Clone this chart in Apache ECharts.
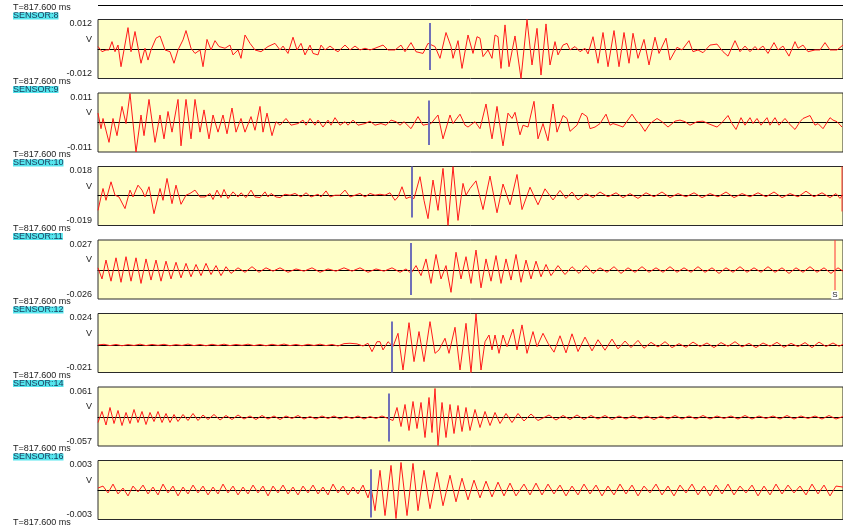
<!DOCTYPE html>
<html><head><meta charset="utf-8">
<script src="https://cdn.jsdelivr.net/npm/echarts@6/dist/echarts.min.js"></script>
<style>html,body{margin:0;padding:0;background:#fff}#c{width:843px;height:532px}</style>
</head><body><div id="c"></div>
<script>
const timeLabel = 'T=817.600 ms';
const sensorNames = ['SENSOR:8','SENSOR:9','SENSOR:10','SENSOR:11','SENSOR:12','SENSOR:14','SENSOR:16'];
const yMax = [0.012, 0.011, 0.018, 0.027, 0.024, 0.061, 0.003];
const yMin = [-0.012, -0.011, -0.019, -0.026, -0.021, -0.057, -0.003];
const pickT = [332, 331, 314, 313, 294, 291, 273];
const pickTop = [0.0106, 0.0082, 0.018, 0.0242, 0.0179, 0.048, 0.0021];
const pickBottom = [-0.0085, -0.0084, -0.014, -0.0225, -0.021, -0.048, -0.0028];
const sPickT = [null, null, 744, 737, null, null, null];
const sPickTop = [null, null, 0.018, 0.027, null, null, null];
const sPickBottom = [null, null, -0.0102, -0.018, null, null, null];
const sPickLabel = ['', '', '', 'S', '', '', ''];

const sensor8 = [[0,.0010],[4,-.0011],[8,-.0004],[11,-.0004],[14,.0030],[17,-.0011],[20,.0016],[23,-.0072],[30,.0087],[33,-.0011],[37,.0071],[43,-.0058],[47,.0003],[50,-.0045],[53,-.0004],[58,.0044],[62,.0053],[67,-.0004],[72,-.0011],[76,-.0058],[80,-.0004],[85,.0037],[88,.0075],[93,.0003],[97,-.0018],[102,-.0004],[105,-.0072],[109,.0039],[113,-.0004],[117,.0034],[121,.0010],[127,.0003],[132,.0016],[135,-.0024],[140,-.0004],[143,-.0038],[147,.0057],[152,.0023],[157,-.0004],[163,-.0011],[170,.0010],[177,.0023],[182,-.0004],[185,.0012],[190,-.0018],[195,.0048],[199,-.0004],[203,.0023],[207,-.0024],[212,.0016],[215,-.0018],[220,-.0024],[223,.0016],[227,-.0004],[232,.0012],[237,-.0004],[240,-.0011],[247,.0016],[252,-.0004],[257,.0012],[262,-.0004],[267,.0003],[272,-.0004],[277,.0003],[285,.0016],[290,-.0004],[297,-.0004],[303,.0016],[307,-.0011],[313,.0026],[318,-.0011],[325,-.0018],[330,.0023],[337,.0010],[342,-.0038],[348,.0067],[353,.0010],[355,-.0038],[360,.0034],[364,-.0079],[370,.0057],[375,-.0018],[379,.0050],[382,.0044],[385,-.0031],[390,-.0004],[394,-.0038],[397,.0057],[400,.0050],[403,-.0079],[407,.0098],[411,-.0072],[417,.0053],[423,-.0120],[429,.0120],[434,-.0065],[439,.0084],[443,-.0106],[448,.0102],[452,-.0065],[457,.0030],[460,-.0024],[465,.0016],[469,.0023],[472,-.0004],[477,.0010],[482,-.0011],[487,.0003],[490,-.0020],[495,.0050],[500,-.0058],[505,.0067],[510,-.0072],[516,.0075],[521,-.0072],[526,.0067],[531,-.0058],[535,.0064],[540,-.0038],[546,.0039],[551,-.0065],[557,.0048],[561,-.0018],[568,.0044],[572,-.0045],[579,.0007],[584,-.0004],[591,.0034],[595,-.0011],[600,-.0004],[605,-.0015],[612,.0016],[619,.0020],[625,-.0011],[630,-.0029],[637,.0034],[642,-.0011],[647,.0012],[652,-.0011],[657,.0010],[660,-.0004],[665,.0012],[670,-.0018],[676,.0026],[680,-.0004],[685,.0012],[691,-.0029],[697,.0030],[700,.0003],[705,.0016],[710,-.0011],[717,-.0004],[722,-.0004],[727,.0026],[732,-.0004],[739,-.0004],[745,.0016]];

const sensor9 = [[0,.0035],[3,-.0023],[5,.0015],[11,-.0074],[15,.0015],[19,-.0049],[24,.0060],[28,-.0004],[32,.0108],[38,-.0110],[43,.0028],[46,-.0049],[51,.0086],[57,-.0074],[62,.0028],[66,-.0061],[70,.0041],[74,-.0036],[80,.0086],[83,-.0087],[88,.0086],[93,-.0061],[97,.0086],[102,-.0036],[106,.0047],[111,-.0061],[115,.0028],[120,-.0036],[125,.0028],[129,-.0042],[134,.0054],[138,-.0036],[143,.0015],[147,-.0036],[153,.0022],[157,-.0029],[162,.0060],[165,-.0036],[169,.0035],[174,-.0049],[178,.0003],[182,-.0010],[188,.0015],[193,-.0010],[200,-.0004],[205,.0009],[208,-.0010],[212,.0015],[217,-.0010],[220,.0009],[225,-.0017],[230,.0009],[233,-.0010],[237,.0018],[242,-.0010],[247,.0003],[250,-.0010],[255,.0009],[260,-.0010],[267,-.0004],[272,.0005],[277,-.0010],[283,-.0004],[288,-.0010],[293,.0009],[298,.0003],[302,-.0010],[306,.0003],[313,-.0023],[320,.0022],[325,-.0010],[333,-.0004],[340,.0028],[345,-.0061],[352,.0028],[355,-.0004],[362,.0031],[367,-.0010],[370,-.0017],[377,.0003],[382,-.0023],[388,.0069],[394,-.0061],[399,.0060],[405,-.0087],[410,.0035],[414,.0015],[417,.0038],[422,-.0046],[425,-.0010],[430,-.0017],[436,.0079],[440,-.0061],[445,-.0004],[450,-.0068],[455,.0069],[459,-.0036],[465,.0026],[469,.0015],[472,-.0033],[479,-.0010],[484,.0035],[489,.0022],[492,-.0023],[497,-.0017],[502,-.0004],[508,.0031],[512,-.0010],[515,-.0004],[520,-.0010],[525,-.0017],[534,.0031],[539,.0003],[542,-.0004],[547,-.0033],[552,-.0004],[559,.0015],[564,.0003],[570,-.0017],[577,.0005],[582,.0009],[587,.0003],[592,-.0010],[599,.0003],[605,.0005],[610,-.0004],[619,-.0017],[624,.0000],[630,.0026],[634,-.0004],[638,-.0026],[643,.0018],[647,-.0010],[652,.0018],[655,-.0004],[659,.0015],[663,-.0010],[669,.0018],[672,-.0010],[677,.0018],[681,-.0010],[687,.0015],[691,-.0004],[697,-.0026],[702,.0003],[705,.0015],[712,.0026],[717,-.0010],[720,-.0004],[725,-.0023],[732,.0018],[735,.0009],[739,.0003],[744,-.0017]];

const sensor10 = [[0,-.0095],[3,-.0011],[5,.0042],[8,-.0032],[13,.0084],[17,0],[21,-.0011],[23,0],[27,-.0084],[32,.0032],[35,-.0011],[40,.0063],[44,.0032],[47,-.0011],[51,.0053],[56,-.0116],[62,.0042],[65,-.0032],[69,.0105],[74,-.0053],[78,.0063],[83,-.0057],[88,0],[92,.0011],[97,.0032],[102,-.0011],[107,-.0011],[112,.0011],[115,-.0027],[119,.0032],[123,-.0015],[126,.0036],[130,-.0021],[135,.0021],[140,-.0011],[143,.0015],[148,-.0015],[153,.0032],[157,-.0011],[162,-.0015],[167,.0021],[170,-.0011],[173,.0011],[178,-.0011],[182,-.0015],[187,.0006],[192,0],[197,.0011],[203,-.0011],[208,.0015],[213,-.0011],[220,.0006],[223,-.0011],[228,.0027],[232,-.0011],[237,0],[242,0],[247,.0032],[252,-.0011],[257,0],[262,.0011],[267,-.0011],[272,.0011],[277,0],[282,.0006],[287,0],[292,.0015],[297,-.0032],[300,-.0011],[304,.0053],[308,-.0021],[312,-.0011],[316,-.0021],[318,-.0011],[322,.0116],[326,-.0032],[330,-.0147],[335,.0095],[340,-.0095],[345,.0168],[350,-.0189],[355,.0179],[360,-.0158],[365,.0074],[368,0],[372,.0042],[378,.009],[385,-.009],[392,.012],[399,-.011],[405,.007],[412,-.006],[419,.013],[424,-.009],[432,.005],[440,-.006],[447,.004],[455,-.003],[462,.003],[468,-.002],[474,.002],[480,-.003],[488,.001],[495,-.0015],[502,.002],[510,-.001],[518,.0015],[525,-.0015],[532,.001],[540,-.002],[548,.0015],[556,-.001],[564,.002],[572,-.0015],[580,.001],[588,-.001],[596,.0015],[604,-.0015],[612,.001],[620,-.001],[628,.002],[636,-.0015],[644,.001],[652,-.001],[660,.0015],[668,-.001],[676,.002],[684,-.0015],[692,.001],[700,-.001],[708,.0025],[716,-.001],[724,.0015],[732,-.0015],[738,.001],[742,-.002],[745,.0005]];

const sensor11 = [[0,.002],[4,-.008],[8,.009],[13,-.010],[18,.011],[23,-.011],[28,.012],[33,-.010],[38,.011],[43,-.012],[48,.010],[53,-.009],[58,.009],[63,-.010],[68,.008],[73,-.008],[78,.007],[83,-.007],[88,.006],[93,-.006],[98,.005],[103,-.005],[108,.006],[113,-.004],[118,.004],[123,-.005],[128,.003],[133,-.003],[140,.002],[147,-.002],[154,.003],[161,-.002],[168,.002],[175,-.001],[182,.002],[190,-.002],[198,.001],[206,-.001],[214,.002],[222,-.002],[230,.001],[238,-.001],[246,.002],[254,-.001],[262,.002],[270,-.002],[278,.001],[286,-.001],[294,.002],[302,-.002],[308,.001],[313,-.003],[318,.004],[323,-.005],[328,.010],[333,-.012],[338,.014],[343,-.008],[348,.004],[353,-.020],[358,.016],[363,-.008],[368,.012],[373,-.012],[378,.018],[383,-.016],[388,.010],[393,-.010],[398,.013],[403,-.012],[408,.010],[413,-.009],[418,.014],[423,-.011],[428,.009],[433,-.008],[438,.008],[443,-.006],[448,.005],[453,-.005],[460,.004],[467,-.004],[474,.003],[481,-.003],[488,.004],[495,-.003],[502,.002],[509,-.002],[516,.003],[523,-.003],[530,.002],[537,-.002],[544,.003],[551,-.002],[558,.002],[565,-.002],[572,.003],[579,-.002],[586,.002],[593,-.002],[600,.003],[607,-.002],[614,.002],[621,-.003],[628,.002],[635,-.002],[642,.003],[649,-.002],[656,.002],[663,-.002],[670,.003],[677,-.002],[684,.002],[691,-.003],[698,.002],[705,-.002],[712,.003],[719,-.002],[726,.002],[733,-.003],[740,.002],[745,-.001]];

const sensor12 = [[0,0],[6,.0005],[12,-.0005],[18,.0004],[24,-.0006],[30,.0003],[36,-.0004],[42,.0006],[48,-.0005],[54,.0004],[60,-.0003],[66,.0005],[72,-.0006],[78,.0003],[84,-.0004],[90,.0007],[96,-.0005],[102,.0004],[108,-.0006],[114,.0005],[120,-.0004],[126,.0006],[132,-.0005],[138,.0004],[144,-.0003],[150,.0006],[156,-.0005],[162,.0004],[168,-.0006],[174,.0005],[180,-.0004],[186,.0007],[192,-.0005],[198,.0004],[204,-.0006],[210,.0005],[216,-.0004],[222,.0006],[228,-.0005],[234,.0004],[240,-.0008],[246,.0010],[252,.0013],[259,.0008],[265,-.0008],[270,.0013],[274,-.0051],[279,.0025],[282,.0025],[285,-.0038],[290,.0025],[295,-.0013],[300,.0089],[305,-.0191],[311,.0170],[316,-.0127],[321,.0102],[326,-.0127],[332,.0178],[337,-.0064],[341,-.0038],[347,.0051],[351,-.0064],[357,.0135],[362,-.0191],[368,.0165],[373,-.0210],[378,.0237],[383,-.0191],[387,.0025],[391,.0076],[394,-.0038],[397,.0076],[401,-.0064],[405,.0076],[409,-.0013],[415,.0120],[419,-.0038],[424,.0153],[429,-.0064],[435,.0102],[439,-.0013],[445,.0089],[450,.0013],[456,-.0055],[462,.0070],[468,-.0060],[474,.0085],[480,-.0050],[487,.0060],[494,-.0045],[500,.0040],[507,-.0040],[514,.0045],[520,-.0030],[527,.0030],[533,-.0020],[540,.0035],[546,-.0025],[553,.0020],[560,-.0015],[567,.0025],[574,-.0020],[581,.0010],[588,-.0018],[595,.0022],[602,-.0012],[609,.0015],[616,-.0020],[623,.0018],[630,-.0010],[637,.0025],[644,-.0015],[651,.0012],[658,-.0020],[665,.0015],[672,-.0010],[679,.0020],[686,-.0018],[693,.0012],[700,-.0012],[707,.0018],[714,-.0020],[721,.0022],[728,-.0012],[735,.0015],[741,-.0010],[745,.0005]];

const sensor14 = [[0,-.010],[4,.012],[8,-.015],[12,.020],[16,-.012],[20,.014],[24,-.016],[28,.010],[32,-.012],[36,.016],[40,-.010],[44,.012],[48,-.014],[52,.010],[56,-.008],[60,.012],[64,-.010],[68,.008],[72,-.010],[76,.006],[80,-.008],[85,.006],[90,-.006],[95,.008],[100,-.006],[105,.005],[110,-.004],[116,.006],[122,-.005],[128,.004],[134,-.004],[140,.005],[146,-.003],[152,.003],[158,-.004],[164,.004],[170,-.003],[176,.003],[182,-.004],[188,.003],[194,-.002],[200,.004],[206,-.003],[212,.002],[218,-.003],[224,.003],[230,-.002],[236,.003],[242,-.003],[248,.002],[254,-.002],[260,.003],[266,-.003],[272,.002],[278,-.002],[284,.003],[290,-.002],[295,-.006],[299,.020],[303,-.018],[307,.026],[311,-.026],[315,.032],[319,-.022],[323,.030],[327,-.040],[331,.040],[334,-.030],[337,.058],[340,-.056],[344,.030],[348,-.040],[352,.026],[356,-.032],[360,.024],[364,-.028],[368,.020],[372,-.026],[377,.016],[382,-.020],[387,.012],[392,-.016],[397,.010],[402,-.012],[408,.008],[414,-.010],[420,.008],[426,-.007],[433,.007],[440,-.006],[451,.005],[458,-.005],[465,.004],[472,-.004],[479,.005],[486,-.004],[493,.004],[500,-.003],[507,.004],[514,-.004],[521,.003],[528,-.003],[535,.004],[542,-.003],[549,.003],[556,-.004],[563,.003],[570,-.003],[577,.004],[584,-.003],[591,.003],[598,-.003],[605,.004],[612,-.003],[619,.003],[626,-.002],[633,.003],[640,-.003],[647,.004],[654,-.003],[661,.003],[668,-.002],[675,.003],[682,-.003],[689,.004],[696,-.003],[703,.003],[710,-.002],[717,.003],[724,-.003],[731,.004],[738,-.003],[745,.002]];

const sensor16 = [[0,.0002],[5,.0004],[10,-.0003],[15,.0006],[20,-.0004],[25,.0002],[30,-.0006],[35,.0004],[40,-.0002],[45,.0005],[50,-.0004],[55,.0003],[60,-.0005],[65,.0006],[70,-.0003],[75,.0004],[80,-.0006],[85,.0003],[90,-.0004],[95,.0005],[100,-.0003],[105,.0004],[110,-.0005],[115,.0003],[120,-.0004],[125,.0006],[130,-.0003],[135,.0004],[140,-.0005],[145,.0003],[150,-.0004],[155,.0005],[160,-.0003],[165,.0004],[170,-.0006],[175,.0004],[180,-.0003],[185,.0005],[190,-.0004],[195,.0003],[200,-.0005],[205,.0004],[210,-.0003],[215,.0005],[220,-.0004],[225,.0003],[230,-.0005],[235,.0006],[240,-.0003],[245,.0004],[250,-.0005],[255,.0003],[260,-.0004],[265,.0005],[270,-.0008],[273,.0003],[277,-.0021],[282,.0020],[287,-.0026],[293,.0025],[298,-.0029],[303,.0028],[309,-.0026],[315,.0027],[320,-.0021],[326,.0020],[332,-.0019],[339,.0018],[345,-.0016],[352,.0015],[358,-.0012],[364,.0012],[370,-.0010],[376,.0010],[382,-.0008],[388,.0009],[394,-.0007],[400,.0008],[406,-.0006],[412,.0007],[418,-.0006],[426,.0006],[432,-.0005],[438,.0007],[444,-.0005],[450,.0006],[456,-.0004],[462,.0005],[468,-.0006],[474,.0004],[480,-.0005],[486,.0006],[492,-.0004],[498,.0005],[504,-.0006],[510,.0004],[516,-.0005],[522,.0006],[528,-.0004],[534,.0005],[540,-.0006],[546,.0004],[552,-.0003],[558,.0006],[564,-.0005],[570,.0004],[576,-.0006],[582,.0005],[588,-.0003],[594,.0006],[600,-.0005],[606,.0004],[612,-.0006],[618,.0005],[624,-.0004],[630,.0006],[636,-.0005],[642,.0004],[648,-.0003],[654,.0005],[660,-.0006],[666,.0004],[672,-.0005],[678,.0006],[684,-.0004],[690,.0005],[696,-.0003],[702,.0004],[708,-.0005],[714,.0006],[720,-.0004],[726,.0005],[732,-.0006],[738,.0004],[745,.0003]];

const waves = [sensor8, sensor9, sensor10, sensor11, sensor12, sensor14, sensor16];

const FONT = '"Liberation Sans Narrow", "Liberation Sans", Arial, sans-serif';
const chart = echarts.init(document.getElementById('c'));
const grids = [], xAxes = [], yAxes = [], series = [], graphics = [];
for (let i = 0; i < waves.length; i++) {
  const top = 19.5 + 73.5 * i;
  grids.push({left: 98, right: -2, top: top, height: 59, show: true,
    backgroundColor: '#ffffc8', borderColor: '#2a2a2a', borderWidth: 1});
  xAxes.push({gridIndex: i, type: 'value', min: 0, max: 745,
    axisLine: {show: true, onZero: true, lineStyle: {color: '#000', width: 1}},
    axisTick: {show: false}, axisLabel: {show: false}, splitLine: {show: false}});
  yAxes.push({gridIndex: i, type: 'value', min: yMin[i], max: yMax[i],
    name: 'V', nameLocation: 'middle', nameRotate: 0, nameGap: 6, nameMoveOverlap: false,
    nameTextStyle: {fontSize: 9, fontFamily: FONT, color: '#222', align: 'right', verticalAlign: 'bottom', padding: [0, 0, 5, 0]},
    axisLine: {show: false}, axisTick: {show: false}, splitLine: {show: false},
    axisLabel: {customValues: [yMin[i], yMax[i]], formatter: v => v.toFixed(3), margin: 6,
      fontSize: 9, fontFamily: FONT, color: '#222',
      verticalAlignMinLabel: 'bottom', verticalAlignMaxLabel: 'top'}});
  series.push({type: 'line', xAxisIndex: i, yAxisIndex: i, data: waves[i], showSymbol: false,
    silent: true, z: 3, lineStyle: {color: '#ff1a1a', width: 1}});
  series.push({type: 'line', xAxisIndex: i, yAxisIndex: i, showSymbol: false, silent: true, z: 4,
    data: [[pickT[i], pickTop[i]], [pickT[i], pickBottom[i]]],
    lineStyle: {color: '#7070b8', width: 2}});
  if (sPickT[i] !== null) {
    series.push({type: 'line', xAxisIndex: i, yAxisIndex: i, silent: true, z: 4,
      symbol: 'circle', symbolSize: 0.01, showSymbol: true,
      data: [[sPickT[i], sPickTop[i]], {value: [sPickT[i], sPickBottom[i]],
        label: {show: sPickLabel[i] !== '', formatter: sPickLabel[i], position: 'bottom', distance: 1,
          fontSize: 8, fontFamily: FONT, color: '#222', backgroundColor: '#fff', padding: [0, 1]}}],
      lineStyle: {color: '#ff3030', width: 1}});
  }
}
for (let i = 0; i <= waves.length; i++) {
  graphics.push({type: 'text', x: 13, y: 8 + 73.5 * i, silent: true,
    style: {text: timeLabel, fill: '#222', font: '9px ' + FONT, verticalAlign: 'middle'}});
}
for (let i = 0; i < waves.length; i++) {
  graphics.push({type: 'text', x: 13, y: 16 + 73.5 * i, silent: true,
    style: {text: sensorNames[i], fill: '#1a3a5a', font: '9px ' + FONT, verticalAlign: 'middle',
      backgroundColor: '#55e6ee', lineHeight: 7, padding: [0, 0, 0, 0]}});
}
graphics.push({type: 'line', silent: true, shape: {x1: 98, y1: 5.5, x2: 843, y2: 5.5},
  style: {stroke: '#000', lineWidth: 1}});

chart.setOption({
  animation: false,
  grid: grids, xAxis: xAxes, yAxis: yAxes, series: series, graphic: graphics
});
</script></body></html>
